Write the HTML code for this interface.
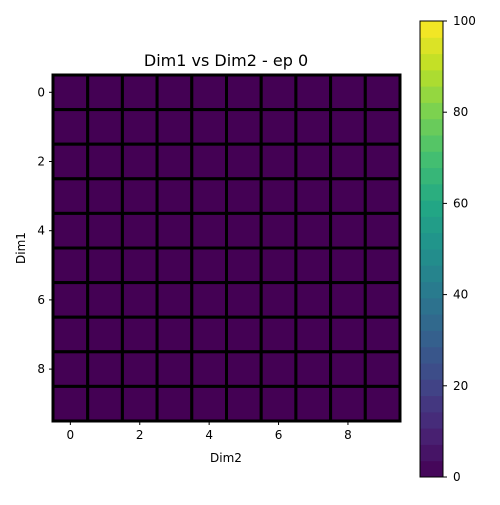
<!DOCTYPE html>
<html><head><meta charset="utf-8"><style>
body{margin:0;background:#fff;font-family:"Liberation Sans","DejaVu Sans",sans-serif}
svg text{font-family:"DejaVu Sans","Liberation Sans",sans-serif;font-size:12px;fill:#000}
</style></head><body>
<svg id="chart" width="500" height="500">
<rect width="500" height="500" fill="#fff"/>
<text x="226" y="66" text-anchor="middle" style="font-size:16px">Dim1 vs Dim2 - ep 0</text>
<g id="cells"></g>
<g id="axes"></g>
<text x="226" y="462" text-anchor="middle">Dim2</text>
<text transform="translate(25,248) rotate(-90)" text-anchor="middle">Dim1</text>
<g id="cbar"></g>
</svg>
<script>
const rows=[0,1,2,3,4,5,6,7,8,9];
const cols=[0,1,2,3,4,5,6,7,8,9];
const values=[
[0,0,0,0,0,0,0,0,0,0],[0,0,0,0,0,0,0,0,0,0],[0,0,0,0,0,0,0,0,0,0],[0,0,0,0,0,0,0,0,0,0],[0,0,0,0,0,0,0,0,0,0],
[0,0,0,0,0,0,0,0,0,0],[0,0,0,0,0,0,0,0,0,0],[0,0,0,0,0,0,0,0,0,0],[0,0,0,0,0,0,0,0,0,0],[0,0,0,0,0,0,0,0,0,0]];
const xTicks=[0,2,4,6,8];
const yTicks=[0,2,4,6,8];
const cbTicks=[0,20,40,60,80,100];
const NS="http://www.w3.org/2000/svg";
const L=53,R=400,T=75,B=421,vmin=0,vmax=100;
const cw=(R-L)/cols.length,ch=(B-T)/rows.length;
const xs=i=>L+(i+0.5)*cw, ys=i=>T+(i+0.5)*ch;
const vir=[[68,1,84],[72,36,117],[65,68,135],[53,95,141],[42,120,142],[33,145,140],[34,168,132],[68,191,112],[122,209,81],[189,223,38],[253,231,37]];
function color(v){let t=Math.max(0,Math.min(1,(v-vmin)/(vmax-vmin)))*(vir.length-1);let i=Math.min(Math.floor(t),vir.length-2),f=t-i;const c=vir[i].map((a,k)=>Math.round(a+(vir[i+1][k]-a)*f));return `rgb(${c})`;}
function mk(tag,attrs,parent){const e=document.createElementNS(NS,tag);for(const k in attrs)e.setAttribute(k,attrs[k]);parent.appendChild(e);return e;}
const cg=document.getElementById('cells');
rows.forEach((r,i)=>cols.forEach((c,j)=>{
 const e=mk('rect',{x:xs(j)-cw/2,y:ys(i)-ch/2,width:cw,height:ch,fill:color(values[i][j]),stroke:'#000','stroke-width':3},cg);
 
 
}));
const ag=document.getElementById('axes');
mk('rect',{x:L,y:T,width:R-L,height:B-T,fill:'none',stroke:'#000','stroke-width':1},ag);
xTicks.forEach(t=>{mk('line',{x1:xs(t),x2:xs(t),y1:B,y2:B+4,stroke:'#000'},ag);
 const e=mk('text',{x:xs(t),y:B+18,'text-anchor':'middle'},ag);e.textContent=t;
 
 });
yTicks.forEach(t=>{mk('line',{x1:L-4,x2:L,y1:ys(t),y2:ys(t),stroke:'#000'},ag);
 const e=mk('text',{x:L-8,y:ys(t)+4,'text-anchor':'end'},ag);e.textContent=t;
 
 });
const cb=document.getElementById('cbar');
const CX=420,CW=23,CT=21,CB=477,nb=28;
const cy=v=>CB-(v-vmin)/(vmax-vmin)*(CB-CT);
for(let k=0;k<nb;k++){const v0=vmin+k*(vmax-vmin)/nb,v1=vmin+(k+1)*(vmax-vmin)/nb;
 mk('rect',{x:CX,y:cy(v1),width:CW,height:cy(v0)-cy(v1)+0.5,fill:color((v0+v1)/2)},cb);}
mk('rect',{x:CX,y:CT,width:CW,height:CB-CT,fill:'none',stroke:'#000'},cb);
cbTicks.forEach(t=>{mk('line',{x1:CX+CW,x2:CX+CW+4,y1:cy(t),y2:cy(t),stroke:'#000'},cb);
 const e=mk('text',{x:CX+CW+10,y:cy(t)+4},cb);e.textContent=t;
 
 });
</script>
</body></html>
